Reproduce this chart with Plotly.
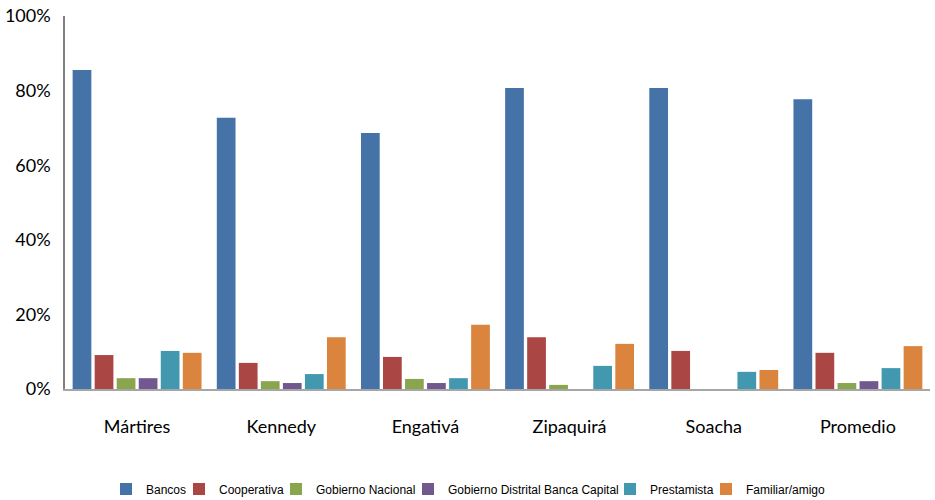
import plotly.graph_objects as go

categories = ["Mártires", "Kennedy", "Engativá", "Zipaquirá", "Soacha", "Promedio"]
series_names = ["Bancos", "Cooperativa", "Gobierno Nacional", "Gobierno Distrital Banca Capital", "Prestamista", "Familiar/amigo"]
bancos = [0.855, 0.727, 0.686, 0.807, 0.807, 0.777]
cooperativa = [0.091, 0.070, 0.086, 0.139, 0.102, 0.097]
gob_nacional = [0.029, 0.021, 0.027, 0.011, 0.0, 0.016]
gob_distrital = [0.029, 0.016, 0.016, 0.0, 0.0, 0.021]
prestamista = [0.102, 0.040, 0.029, 0.062, 0.046, 0.056]
familiar = [0.097, 0.139, 0.172, 0.121, 0.051, 0.115]
colors = ["#4572A7", "#AA4643", "#89A54E", "#71588F", "#4198AF", "#DB843D"]
y_ticks = [0, 0.2, 0.4, 0.6, 0.8, 1.0]

# legend text start positions (screen px)
legend_text_px = [146, 219, 316, 448, 650, 746]

W, H = 935, 500
ML, MR, MT, MB = 65, 5, 16, 111
pw = W - ML - MR
ph = H - MT - MB
plot_left_screen = ML
plot_bottom_screen = MT + ph

fig = go.Figure()
layout_legends = {}
for i, (name, vals, col) in enumerate(zip(series_names, [bancos, cooperativa, gob_nacional, gob_distrital, prestamista, familiar], colors)):
    lname = "legend" if i == 0 else f"legend{i+1}"
    fig.add_trace(go.Bar(x=categories, y=vals, name=name, legend=lname,
                         marker=dict(color=col, line=dict(width=0))))
    layout_legends[lname] = dict(
        x=(legend_text_px[i] - 40 - plot_left_screen) / pw, xanchor="left",
        y=(plot_bottom_screen - 489) / ph, yanchor="middle",
        orientation="h", bgcolor="rgba(0,0,0,0)", borderwidth=0,
        font=dict(family="Liberation Sans, Arial, sans-serif", size=12, color="#000"),
        itemwidth=30,
    )

fig.update_layout(
    width=W, height=H,
    margin=dict(l=ML, r=MR, t=MT, b=MB, autoexpand=False),
    plot_bgcolor="white", paper_bgcolor="white",
    barmode="group", bargap=0.083, bargroupgap=0.15,
    showlegend=True,
    font=dict(family="Lato, Carlito, Calibri, sans-serif", color="#000"),
    **layout_legends,
)
fig.update_xaxes(showline=True, linecolor="#A6A6A6", linewidth=2, showgrid=False, automargin=False,
                 ticks="", ticklabelstandoff=20, tickfont=dict(size=18, family="Lato, sans-serif"))
fig.update_yaxes(range=[0, 1.0], tickvals=y_ticks, tickformat=".0%", showline=True, automargin=False,
                 linecolor="#808080", linewidth=1.5, showgrid=False, zeroline=False,
                 ticks="", ticklabelstandoff=9, tickfont=dict(size=18, family="Lato, sans-serif"))

fig.write_html("out.html", post_script="document.body.style.margin='0';",
               config={"displayModeBar": False})
